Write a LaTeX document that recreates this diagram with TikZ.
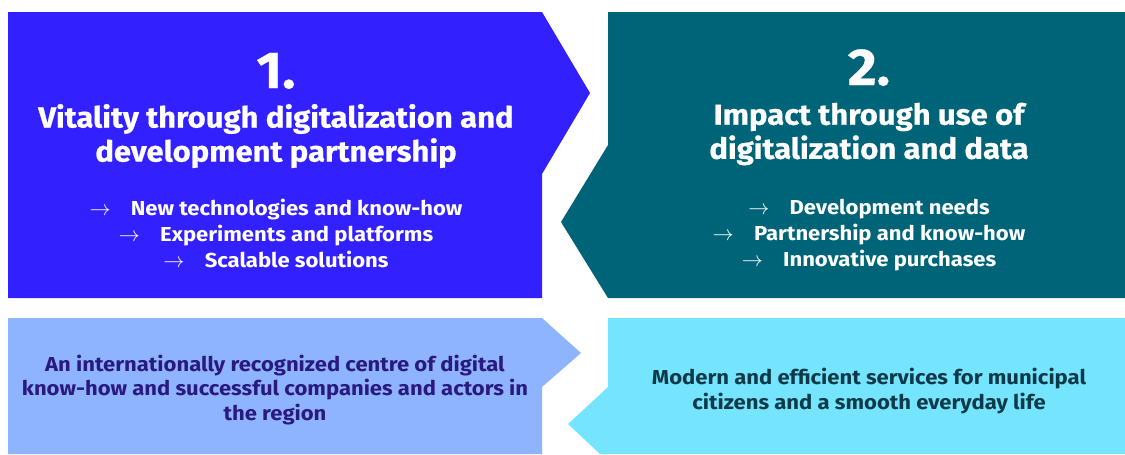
\documentclass[tikz,border=0pt]{standalone}
\usepackage{fontspec}
\setmainfont{Fira Sans}[FakeStretch=1.09]
\newfontfamily\headfont{Fira Sans}[FakeStretch=1.07, FakeBold=0.6]
\usepackage{xcolor}
\usepackage{tikz}

\definecolor{vitblue}{HTML}{3220FF}
\definecolor{impteal}{HTML}{006478}
\definecolor{goalblue}{HTML}{8FB4FF}
\definecolor{goalcyan}{HTML}{75E4FF}
\definecolor{goalnavy}{HTML}{2A1A80}
\definecolor{goaldark}{HTML}{0E3A48}

\begin{document}
\begin{tikzpicture}[x=0.02cm, y=-0.02cm, every node/.style={inner sep=0pt},
	num/.style={text=white, font=\headfont\bfseries\fontsize{29.5}{32}\selectfont},
	head/.style={text=white, align=center, font=\headfont\bfseries\fontsize{16.5}{19.4}\selectfont},
	items/.style={text=white, align=center, font=\bfseries\fontsize{11.5}{14.8}\selectfont},
	goal/.style={align=center, font=\bfseries\fontsize{11.5}{14}\selectfont}]
\useasboundingbox (0,0) rectangle (1125,454);
%upper arrows
\fill[vitblue] (8,12) -- (542,12) -- (590,93) -- (542,174) -- (542,298) -- (8,298) -- cycle;
\fill[impteal] (608,12) -- (1125,12) -- (1125,298) -- (608,298) -- (561,222) -- (608,145) -- cycle;
%lower arrows
\fill[goalblue] (8,318) -- (542,318) -- (581,353) -- (542,387) -- (542,454) -- (8,454) -- cycle;
\fill[goalcyan] (608,318) -- (1125,318) -- (1125,454) -- (600,454) -- (568,424) -- (608,387) -- cycle;
%1. vitality
\node[num, anchor=base] (vitnum) at (276,88) {1.};
\node[head] (vithead) at (276,136) {Vitality through digitalization and\\development partnership};
\node[items] (vititems) at (276,233) {$\rightarrow$\hspace{1em}New technologies and know-how\\
	$\rightarrow$\hspace{1em}Experiments and platforms\\
	$\rightarrow$\hspace{1em}Scalable solutions};
%2. impact
\node[num, anchor=base] (impnum) at (869,85) {2.};
\node[head] (imphead) at (869,134) {Impact through use of\\digitalization and data};
\node[items] (impitems) at (869,235) {$\rightarrow$\hspace{1em}Development needs\\
	$\rightarrow$\hspace{1em}Partnership and know-how\\
	$\rightarrow$\hspace{1em}Innovative purchases};
%goals
\node[goal, text=goalnavy] (vitgoal) at (275,390) {An internationally recognized centre of digital\\
	know-how and successful companies and actors in\\the region};
\node[goal, text=goaldark] (impgoal) at (869,391) {Modern and efficient services for municipal\\
	citizens and a smooth everyday life};
\end{tikzpicture}
\end{document}
